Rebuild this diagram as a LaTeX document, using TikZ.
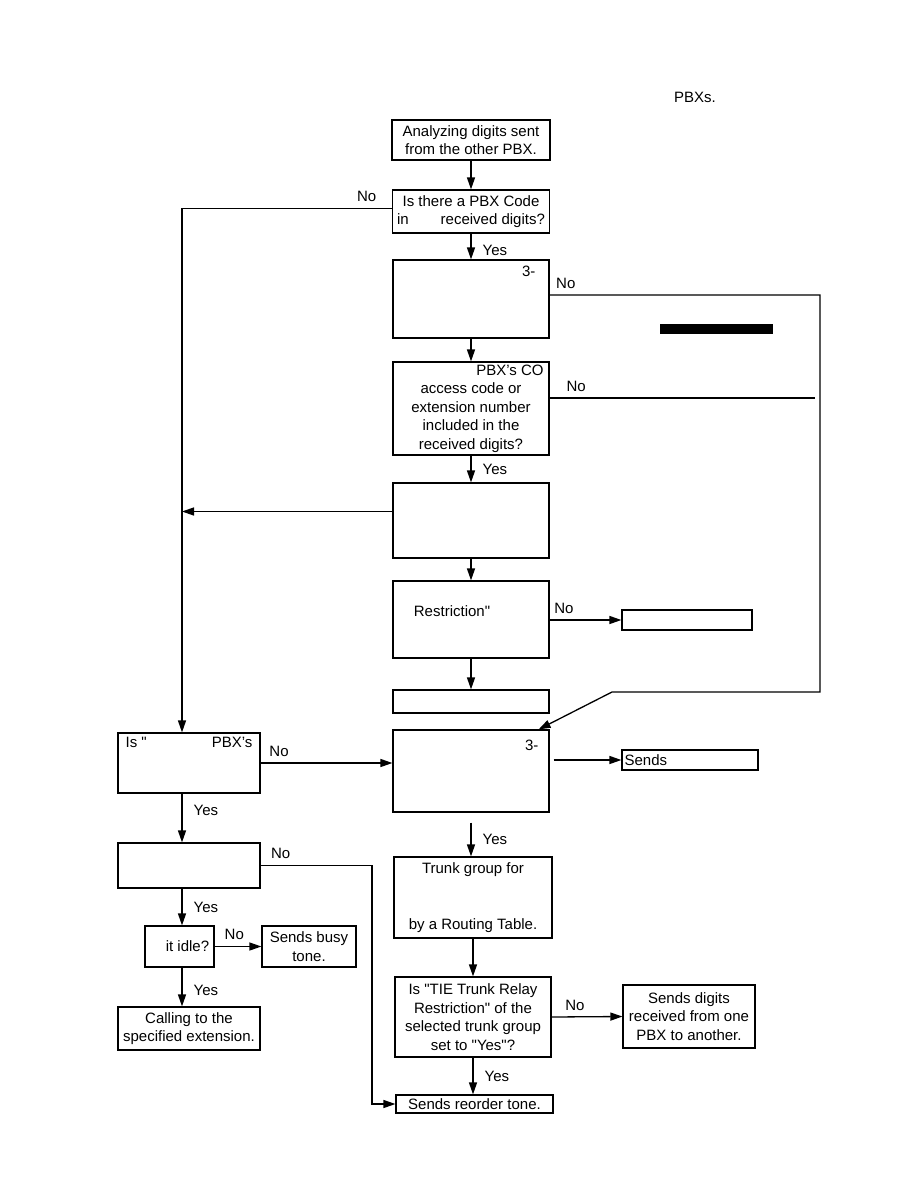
\documentclass[tikz,border=0pt]{standalone}
\usepackage{fontspec}
\setmainfont{Liberation Sans}
\usepackage{tikz}
\usetikzlibrary{arrows.meta, positioning}
\newcommand{\flowfont}{\fontsize{15}{18.5}\selectfont}

\begin{document}
\begin{tikzpicture}[x=1pt, y=-1pt,
  box/.style={rectangle, draw=black, line width=1.2pt, inner sep=0pt,
              align=center, font=\flowfont},
  txt/.style={inner sep=0pt, font=\flowfont},
  arr/.style={-{Triangle[length=12pt,width=8pt]}, line width=1.3pt},
  wire/.style={line width=1.3pt},
  yes/.style={txt, right, xshift=11pt},
  no/.style={txt, above, yshift=6pt}
]
\useasboundingbox[fill=white] (0,0) rectangle (918,1188);
\node[txt] (title) at (695,97) {PBXs.};
\fill (660,324) rectangle (773,334);
%% Main column
\node[box, minimum width=158pt, minimum height=40pt] (analyze) at (471,140) {Analyzing digits sent\\from the other PBX.};
\node[box, minimum width=157pt, minimum height=43pt] (hascode) at (471,211.5) {Is there a PBX Code\\in\hspace{32pt}received digits?};
\node[box, minimum width=156pt, minimum height=78pt] (chkthree) at (471,299) {};
\node[txt, anchor=north east] (chkthreelbl) at ([xshift=-14pt,yshift=-6pt]chkthree.north east) {3-};
\node[box, minimum width=156pt, minimum height=93pt] (hasco) at (471,408.5) {\hspace*{78pt}PBX's CO\\access code or\\extension number\\included in the\\received digits?};
\node[box, minimum width=156pt, minimum height=75pt] (boxE) at (471,520.5) {};
\node[box, minimum width=156pt, minimum height=77pt] (restrict) at (471,619.5) {};
\node[txt] (restrictlbl) at (452,611) {Restriction\textquotedbl};
\node[box, minimum width=130pt, minimum height=20pt] (sendsa) at (687,620) {};
\node[box, minimum width=156pt, minimum height=23pt] (boxH) at (471,701.5) {};
\node[box, minimum width=156pt, minimum height=82pt] (chkthreeb) at (471,771) {};
\node[txt, anchor=north east] (chkthreeblbl) at ([xshift=-11pt,yshift=-10pt]chkthreeb.north east) {3-};
\node[box, minimum width=136pt, minimum height=20pt] (sendsb) at (690,760) {};
\node[txt, anchor=west] (sendsblbl) at ([xshift=3pt]sendsb.west) {Sends};
\node[box, minimum width=158pt, minimum height=81pt] (trunk) at (473,897.5) {Trunk group for\\[38pt]by a Routing Table.};
\node[box, minimum width=156pt, minimum height=80pt] (tierelay) at (473,1017) {Is \textquotedbl TIE Trunk Relay\\Restriction\textquotedbl{} of the\\selected trunk group\\set to \textquotedbl Yes\textquotedbl?};
\node[box, minimum width=132pt, minimum height=63pt] (sendsdig) at (689,1016.5) {Sends digits\\received from one\\PBX to another.};
\node[box, minimum width=157pt, minimum height=18pt] (reorder) at (474.5,1104) {Sends reorder tone.};
%% Left column
\node[box, minimum width=142pt, minimum height=60pt] (isown) at (189,763) {};
\node[txt, anchor=north] (isownlbl) at ([yshift=-5pt]isown.north) {Is \textquotedbl\hspace{65pt}PBX's};
\node[box, minimum width=142pt, minimum height=45pt] (isext) at (189,865.5) {};
\node[box, minimum width=69pt, minimum height=41pt] (idle) at (179.5,946.5) {\hspace*{16pt}it idle?};
\node[box, minimum width=94pt, minimum height=41pt] (busy) at (309,946.5) {Sends busy\\tone.};
\node[box, minimum width=142pt, minimum height=43pt] (calling) at (189,1028.5) {Calling to the\\specified extension.};
%% Rails and bends
\coordinate (lrail) at (182,208);
\coordinate (rrail) at (820,295);
\coordinate (rkink) at (612,692);
\coordinate (dend) at (815,398);
\coordinate (krail) at (372,865);
%% Connectors
\draw[arr] (analyze.south) -- (analyze.south |- hascode.north);
\draw[arr] ([yshift=3pt]hascode.west) -| node[no, pos=0.06]{No} (isown.north -| lrail);
\draw[arr] (hascode.south) -- node[yes, pos=0.65]{Yes} (hascode.south |- chkthree.north);
\draw[arr] (chkthree.east |- rrail) -- node[no, pos=0.06]{No} (rrail) -- (rrail |- rkink) -- (rkink) -- ([xshift=-11pt]chkthreeb.north east);
\draw[arr] (chkthree.south) -- (chkthree.south |- hasco.north);
\draw[wire] (hasco.east |- dend) -- node[no, pos=0.1]{No} (dend);
\draw[arr] (hasco.south) -- node[yes]{Yes} (hasco.south |- boxE.north);
\draw[arr] ([yshift=9pt]boxE.west) -- ([yshift=9pt]boxE.west -| lrail);
\draw[arr] (boxE.south) -- (boxE.south |- restrict.north);
\draw[arr] (restrict.east |- sendsa.west) -- node[no, pos=0.2]{No} (sendsa.west);
\draw[arr] (restrict.south) -- (restrict.south |- boxH.north);
\draw[arr] (isown.east) -- node[no, pos=0.14]{No} (isown.east -| chkthreeb.west);
\draw[arr] ([xshift=4pt]chkthreeb.east |- sendsb.west) -- (sendsb.west);
\draw[arr] ([yshift=-10pt]chkthreeb.south) -- node[yes]{Yes} (chkthreeb.south |- trunk.north);
\draw[arr] (trunk.south) -- (trunk.south |- tierelay.north);
\draw[arr] (tierelay.east) -- node[no, pos=0.33]{No} (sendsdig.west);
\draw[arr] (tierelay.south) -- node[yes]{Yes} (tierelay.south |- reorder.north);
\draw[arr] (isown.south -| lrail) -- node[yes, pos=0.35]{Yes} (isext.north -| lrail);
\draw[arr] (isext.east) -| node[no, pos=0.09]{No} (reorder.west -| krail) -- (reorder.west);
\draw[arr] (isext.south -| lrail) -- node[yes]{Yes} (idle.north -| lrail);
\draw[arr] (idle.east) -- node[no, pos=0.42]{No} (busy.west);
\draw[arr] (idle.south -| lrail) -- node[yes, pos=0.6]{Yes} (calling.north -| lrail);
\end{tikzpicture}
\end{document}
